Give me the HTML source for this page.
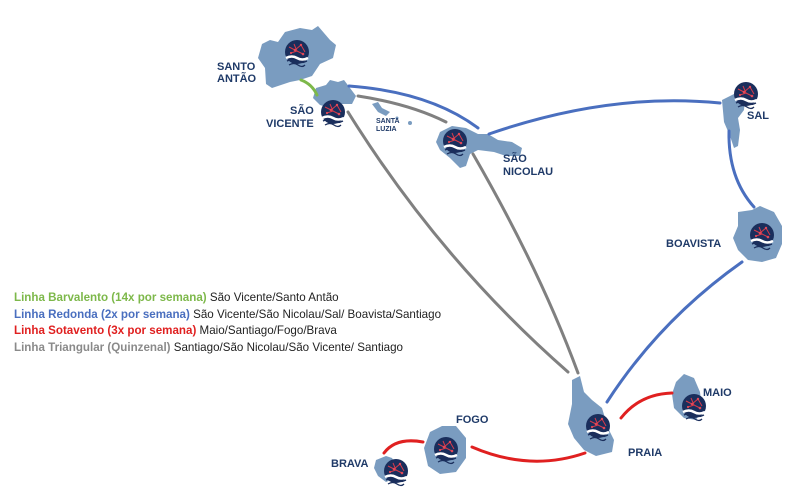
<!DOCTYPE html>
<html><head><meta charset="utf-8"><style>
html,body{margin:0;padding:0;background:#fff;width:800px;height:500px;overflow:hidden}
svg{display:block}
.l{font-family:"Liberation Sans",sans-serif;font-weight:bold;fill:#1f3a68;font-size:11px}
.g{font-family:"Liberation Sans",sans-serif;font-size:11.6px}
</style></head><body>
<svg width="800" height="500" viewBox="0 0 800 500" xmlns="http://www.w3.org/2000/svg">
<defs>
<g id="lg">
<circle cx="0" cy="-1" r="12" fill="#1a2e5c"/>
<path d="M-8,-6 L-2,-3 L4,-8 L8,-1 M-6,0 L0,-2 L6,1 M-3,-9 L0,-2" stroke="#d63a4a" stroke-width="1" fill="none"/>
<circle cx="-2" cy="-3" r="1.3" fill="#e04858"/><circle cx="4" cy="-8" r="1.2" fill="#e04858"/><circle cx="6" cy="1" r="1.3" fill="#e04858"/><circle cx="-6" cy="0" r="1.1" fill="#e04858"/>
<path d="M-11,5 Q-5,2 0,5 T11,5" stroke="#fff" stroke-width="2.5" fill="none"/>
<path d="M-10,8 Q-4,5 0,8 T10,8 M-8,12 Q-3,9 1,12 T8,12" stroke="#1a2e5c" stroke-width="1.3" fill="none"/>
</g>
</defs>
<g fill="#7a9cc0">
<path d="M262,44 L270,40 L278,42 L285,32 L300,28 L312,30 L318,26 L330,40 L336,45 L333,58 L320,64 L312,76 L300,80 L290,82 L272,88 L266,84 L265,68 L258,58 Z"/>
<path d="M316,88 L326,85 L330,80 L338,82 L344,80 L350,88 L356,96 L352,104 L340,104 L330,108 L320,105 L313,98 Z"/>
<path d="M372,104 L378,102 L382,108 L390,112 L386,116 L378,112 Z"/>
<circle cx="397" cy="118" r="1.5"/><circle cx="410" cy="123" r="2"/>
<path d="M440,132 L452,126 L466,128 L478,134 L488,134 L498,140 L512,142 L522,148 L520,156 L506,156 L494,152 L478,150 L470,154 L466,166 L460,168 L450,158 L440,150 L436,142 Z"/>
<path d="M722,100 L734,94 L745,98 L744,110 L738,118 L740,130 L738,146 L734,148 L730,136 L724,122 Z"/>
<path d="M738,212 L752,210 L760,206 L774,212 L782,226 L782,244 L776,258 L762,262 L748,260 L738,250 L733,238 L738,226 Z"/>
<path d="M572,380 L580,376 L584,392 L592,400 L602,408 L608,428 L614,440 L612,452 L596,456 L584,450 L574,438 L568,424 L572,404 Z"/>
<path d="M676,382 L684,374 L694,378 L700,392 L702,410 L696,420 L684,418 L674,408 L672,394 Z"/>
<path d="M430,432 L442,426 L456,426 L466,438 L466,458 L456,472 L440,474 L428,466 L424,448 Z"/>
<path d="M376,460 L386,456 L392,458 L398,468 L396,478 L386,482 L378,476 L374,468 Z"/>
</g>
<g fill="none" stroke-width="3" stroke-linecap="round">
<path d="M301,80 Q312,84 317,95" stroke="#7db84a"/>
<path d="M349,86 Q430,92 478,128" stroke="#4a6fbf"/>
<path d="M489,134 Q610,92 720,103" stroke="#4a6fbf"/>
<path d="M729,131 Q728,178 754,207" stroke="#4a6fbf"/>
<path d="M742,262 Q660,320 607,402" stroke="#4a6fbf"/>
<path d="M358,96 Q410,104 446,122" stroke="#808080"/>
<path d="M348,112 Q440,260 568,372" stroke="#808080"/>
<path d="M473,154 Q540,270 578,373" stroke="#808080"/>
<path d="M672,393 Q640,394 621,418" stroke="#e02020"/>
<path d="M472,447 Q530,472 585,453" stroke="#e02020"/>
<path d="M384,453 Q396,437 423,442" stroke="#e02020"/>
</g>
<use href="#lg" x="297" y="53"/>
<use href="#lg" x="333" y="113"/>
<use href="#lg" x="455" y="142"/>
<use href="#lg" x="746" y="95"/>
<use href="#lg" x="762" y="236"/>
<use href="#lg" x="598" y="427"/>
<use href="#lg" x="694" y="407"/>
<use href="#lg" x="446" y="450"/>
<use href="#lg" x="396" y="472"/>
<text class="l" x="217" y="70">SANTO</text><text class="l" x="217" y="82">ANTÃO</text>
<text class="l" x="290" y="114">SÃO</text><text class="l" x="266" y="127">VICENTE</text>
<text class="l" x="376" y="123" style="font-size:7px">SANTA</text><text class="l" x="376" y="131" style="font-size:7px">LUZIA</text>
<text class="l" x="503" y="162">SÃO</text><text class="l" x="503" y="175">NICOLAU</text>
<text class="l" x="747" y="119">SAL</text>
<text class="l" x="666" y="247">BOAVISTA</text>
<text class="l" x="628" y="456">PRAIA</text>
<text class="l" x="703" y="396">MAIO</text>
<text class="l" x="456" y="423">FOGO</text>
<text class="l" x="331" y="467">BRAVA</text>
<text class="g" x="14" y="301"><tspan font-weight="bold" fill="#7db84a">Linha Barvalento (14x por semana)</tspan><tspan fill="#222">  São Vicente/Santo Antão</tspan></text>
<text class="g" x="14" y="318"><tspan font-weight="bold" fill="#4a6fbf">Linha Redonda (2x por semana)</tspan><tspan fill="#222"> São Vicente/São Nicolau/Sal/ Boavista/Santiago</tspan></text>
<text class="g" x="14" y="334"><tspan font-weight="bold" fill="#e02020">Linha Sotavento (3x por semana)</tspan><tspan fill="#222">  Maio/Santiago/Fogo/Brava</tspan></text>
<text class="g" x="14" y="351"><tspan font-weight="bold" fill="#8a8a8a">Linha Triangular (Quinzenal)</tspan><tspan fill="#222"> Santiago/São Nicolau/São Vicente/ Santiago</tspan></text>
</svg>
</body></html>
